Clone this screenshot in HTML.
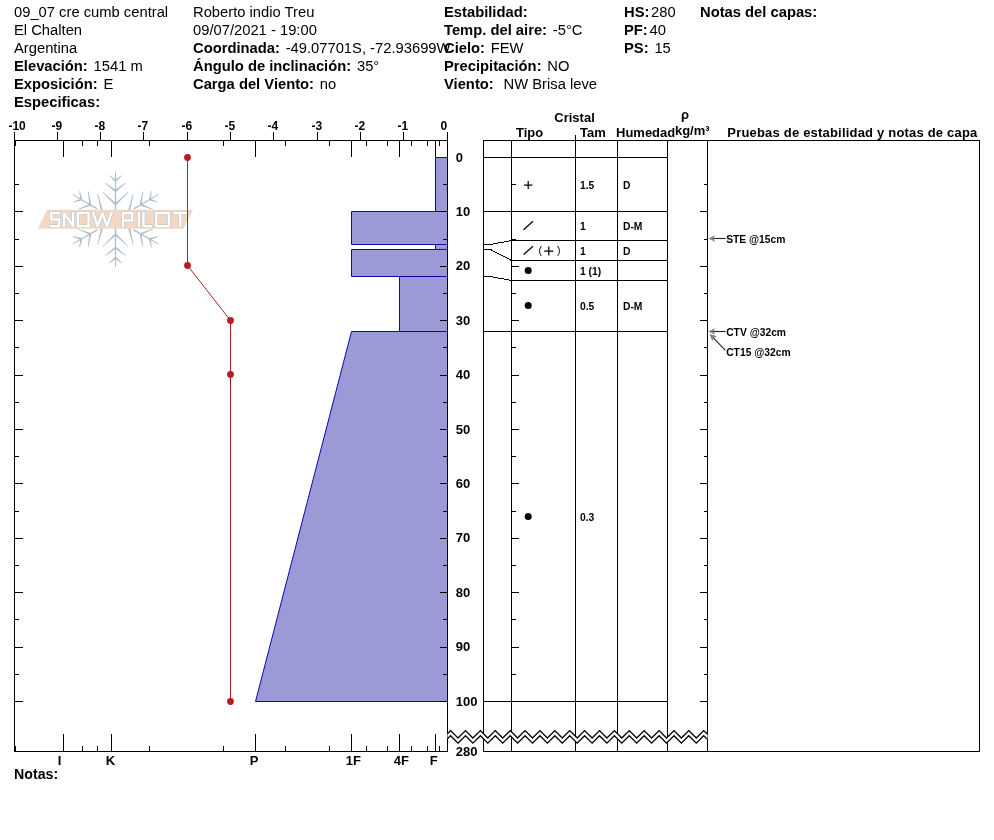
<!DOCTYPE html>
<html><head><meta charset="utf-8"><title>Snow profile</title>
<style>
html,body{margin:0;padding:0;background:#fff;}
body{width:994px;height:840px;position:relative;overflow:hidden;font-family:"Liberation Sans",sans-serif;color:#000;}
.h{position:absolute;white-space:nowrap;font-size:14.75px;line-height:18px;height:18px;}
.h b{font-weight:bold;margin-right:1.7px;}
svg{position:absolute;left:0;top:0;}
svg text{font-family:"Liberation Sans",sans-serif;fill:#000;}
.ax{font-weight:bold;font-size:13px;}
.tx{font-weight:bold;font-size:12px;}
.hd{font-weight:bold;font-size:13px;}
.sm{font-weight:bold;font-size:10.3px;}
</style></head><body><div id="wrap" style="position:absolute;left:0;top:0;width:994px;height:840px;will-change:transform;">
<div class="h" style="left:14px;top:3px;">09_07 cre cumb central</div>
<div class="h" style="left:14px;top:21px;">El Chalten</div>
<div class="h" style="left:14px;top:39px;">Argentina</div>
<div class="h" style="left:14px;top:57px;"><b>Elevación:</b> 1541 m</div>
<div class="h" style="left:14px;top:75px;"><b>Exposición:</b> E</div>
<div class="h" style="left:14px;top:93px;"><b>Especificas:</b></div>
<div class="h" style="left:193px;top:3px;">Roberto indio Treu</div>
<div class="h" style="left:193px;top:21px;">09/07/2021 - 19:00</div>
<div class="h" style="left:193px;top:39px;"><b>Coordinada:</b> -49.07701S, -72.93699W</div>
<div class="h" style="left:193px;top:57px;"><b>Ángulo de inclinación:</b> 35°</div>
<div class="h" style="left:193px;top:75px;"><b>Carga del Viento:</b> no</div>
<div class="h" style="left:444px;top:3px;"><b>Estabilidad:</b></div>
<div class="h" style="left:444px;top:21px;"><b>Temp. del aire:</b> -5°C</div>
<div class="h" style="left:444px;top:39px;"><b>Cielo:</b> FEW</div>
<div class="h" style="left:444px;top:57px;"><b>Precipitación:</b> NO</div>
<div class="h" style="left:444px;top:75px;"><b>Viento:</b>&nbsp; NW Brisa leve</div>
<div class="h" style="left:624px;top:3px;"><b>HS:</b>280</div>
<div class="h" style="left:624px;top:21px;"><b>PF:</b>40</div>
<div class="h" style="left:624px;top:39px;"><b>PS:</b> 15</div>
<div class="h" style="left:700px;top:3px;"><b>Notas del capas:</b></div>
<div class="h" style="left:14px;top:765px;font-size:14.2px;"><b>Notas:</b></div>
<svg width="994" height="840" viewBox="0 0 994 840">
<g id="logo">
<g fill="#adbec8" stroke="none">
<path transform="translate(115.5,219.3) rotate(0) scale(1.0)" d="M0.75,-8.40 L0.45,-47.80 L-0.45,-47.80 L-0.75,-8.40 Z M1.11,-38.75 L-6.00,-44.12 L-6.40,-43.68 L-0.21,-37.25 Z M0.21,-37.25 L6.40,-43.68 L6.00,-44.12 L-1.11,-38.75 Z M1.09,-28.70 L-9.91,-36.63 L-10.29,-36.17 L-0.16,-27.14 Z M0.16,-27.14 L10.29,-36.17 L9.91,-36.63 L-1.09,-28.70 Z M1.13,-15.31 L-12.59,-27.52 L-13.01,-27.08 L-0.26,-13.86 Z M0.26,-13.86 L13.01,-27.08 L12.59,-27.52 L-1.13,-15.31 Z"/>
<path transform="translate(115.5,219.3) rotate(60) scale(1.03)" d="M0.75,-20.40 L0.45,-47.80 L-0.45,-47.80 L-0.75,-20.40 Z M1.11,-38.75 L-6.00,-44.12 L-6.40,-43.68 L-0.21,-37.25 Z M0.21,-37.25 L6.40,-43.68 L6.00,-44.12 L-1.11,-38.75 Z M1.09,-28.70 L-9.91,-36.63 L-10.29,-36.17 L-0.16,-27.14 Z M0.16,-27.14 L10.29,-36.17 L9.91,-36.63 L-1.09,-28.70 Z M1.13,-15.31 L-12.59,-27.52 L-13.01,-27.08 L-0.26,-13.86 Z M0.26,-13.86 L13.01,-27.08 L12.59,-27.52 L-1.13,-15.31 Z"/>
<path transform="translate(115.5,219.3) rotate(120) scale(1.03)" d="M0.75,-20.40 L0.45,-47.80 L-0.45,-47.80 L-0.75,-20.40 Z M1.11,-38.75 L-6.00,-44.12 L-6.40,-43.68 L-0.21,-37.25 Z M0.21,-37.25 L6.40,-43.68 L6.00,-44.12 L-1.11,-38.75 Z M1.09,-28.70 L-9.91,-36.63 L-10.29,-36.17 L-0.16,-27.14 Z M0.16,-27.14 L10.29,-36.17 L9.91,-36.63 L-1.09,-28.70 Z M1.13,-15.31 L-12.59,-27.52 L-13.01,-27.08 L-0.26,-13.86 Z M0.26,-13.86 L13.01,-27.08 L12.59,-27.52 L-1.13,-15.31 Z"/>
<path transform="translate(115.5,219.3) rotate(180) scale(1.0)" d="M0.75,-8.40 L0.45,-47.80 L-0.45,-47.80 L-0.75,-8.40 Z M1.11,-38.75 L-6.00,-44.12 L-6.40,-43.68 L-0.21,-37.25 Z M0.21,-37.25 L6.40,-43.68 L6.00,-44.12 L-1.11,-38.75 Z M1.09,-28.70 L-9.91,-36.63 L-10.29,-36.17 L-0.16,-27.14 Z M0.16,-27.14 L10.29,-36.17 L9.91,-36.63 L-1.09,-28.70 Z M1.13,-15.31 L-12.59,-27.52 L-13.01,-27.08 L-0.26,-13.86 Z M0.26,-13.86 L13.01,-27.08 L12.59,-27.52 L-1.13,-15.31 Z"/>
<path transform="translate(115.5,219.3) rotate(240) scale(1.03)" d="M0.75,-20.40 L0.45,-47.80 L-0.45,-47.80 L-0.75,-20.40 Z M1.11,-38.75 L-6.00,-44.12 L-6.40,-43.68 L-0.21,-37.25 Z M0.21,-37.25 L6.40,-43.68 L6.00,-44.12 L-1.11,-38.75 Z M1.09,-28.70 L-9.91,-36.63 L-10.29,-36.17 L-0.16,-27.14 Z M0.16,-27.14 L10.29,-36.17 L9.91,-36.63 L-1.09,-28.70 Z M1.13,-15.31 L-12.59,-27.52 L-13.01,-27.08 L-0.26,-13.86 Z M0.26,-13.86 L13.01,-27.08 L12.59,-27.52 L-1.13,-15.31 Z"/>
<path transform="translate(115.5,219.3) rotate(300) scale(1.03)" d="M0.75,-20.40 L0.45,-47.80 L-0.45,-47.80 L-0.75,-20.40 Z M1.11,-38.75 L-6.00,-44.12 L-6.40,-43.68 L-0.21,-37.25 Z M0.21,-37.25 L6.40,-43.68 L6.00,-44.12 L-1.11,-38.75 Z M1.09,-28.70 L-9.91,-36.63 L-10.29,-36.17 L-0.16,-27.14 Z M0.16,-27.14 L10.29,-36.17 L9.91,-36.63 L-1.09,-28.70 Z M1.13,-15.31 L-12.59,-27.52 L-13.01,-27.08 L-0.26,-13.86 Z M0.26,-13.86 L13.01,-27.08 L12.59,-27.52 L-1.13,-15.31 Z"/>
</g>
<polygon points="47.1,209.8 193.1,209.8 183.4,228.8 37.7,228.8" fill="#f1d9c5"/>
<path d="M59.0,212.9 L51.3,212.9 L51.3,219.6 L59.0,219.6 L59.0,226.3 L51.3,226.3 M64.0,226.3 L64.0,212.9 L73.1,226.3 L73.1,212.9 M78.0,212.9 L88.5,212.9 L88.5,226.3 L78.0,226.3 Z M93.2,212.9 L97.6,226.3 L102.3,212.9 L107.0,226.3 L111.4,212.9 M123.1,226.3 L123.1,212.9 L132.2,212.9 L132.2,220.4 L123.1,220.4 M139,212.9 L139,226.3 M143.5,212.9 L143.5,226.3 L150.8,226.3 M156.2,212.9 L168.9,212.9 L168.9,226.3 L156.2,226.3 Z M174.3,212.9 L186.3,212.9 M180.3,212.9 L180.3,226.3" fill="none" stroke="#b3bec8" stroke-width="3.5" stroke-miterlimit="2" stroke-linejoin="miter" stroke-linecap="square"/>
<path d="M59.0,212.9 L51.3,212.9 L51.3,219.6 L59.0,219.6 L59.0,226.3 L51.3,226.3 M64.0,226.3 L64.0,212.9 L73.1,226.3 L73.1,212.9 M78.0,212.9 L88.5,212.9 L88.5,226.3 L78.0,226.3 Z M93.2,212.9 L97.6,226.3 L102.3,212.9 L107.0,226.3 L111.4,212.9 M123.1,226.3 L123.1,212.9 L132.2,212.9 L132.2,220.4 L123.1,220.4 M139,212.9 L139,226.3 M143.5,212.9 L143.5,226.3 L150.8,226.3 M156.2,212.9 L168.9,212.9 L168.9,226.3 L156.2,226.3 Z M174.3,212.9 L186.3,212.9 M180.3,212.9 L180.3,226.3" fill="none" stroke="#ffffff" stroke-width="2.5" stroke-miterlimit="2" stroke-linejoin="miter" stroke-linecap="square"/>
</g>
<path d="M447.5,157.5 L435.5,157.5 L435.5,211.5 L447.5,211.5 Z" fill="#9c9ad6" stroke="none"/>
<path d="M447.5,157.5 L435.5,157.5 L435.5,211.5 L447.5,211.5" fill="none" stroke="#0a0aa8" stroke-width="1"/>
<path d="M447.5,211.5 L351.5,211.5 L351.5,244.5 L447.5,244.5 Z" fill="#9c9ad6" stroke="none"/>
<path d="M447.5,211.5 L351.5,211.5 L351.5,244.5 L447.5,244.5" fill="none" stroke="#0a0aa8" stroke-width="1"/>
<path d="M447.5,244.5 L435.5,244.5 L435.5,249.5 L447.5,249.5 Z" fill="#9c9ad6" stroke="none"/>
<path d="M447.5,244.5 L435.5,244.5 L435.5,249.5 L447.5,249.5" fill="none" stroke="#0a0aa8" stroke-width="1"/>
<path d="M447.5,249.5 L351.5,249.5 L351.5,276.5 L447.5,276.5 Z" fill="#9c9ad6" stroke="none"/>
<path d="M447.5,249.5 L351.5,249.5 L351.5,276.5 L447.5,276.5" fill="none" stroke="#0a0aa8" stroke-width="1"/>
<path d="M447.5,276.5 L399.5,276.5 L399.5,331.5 L447.5,331.5 Z" fill="#9c9ad6" stroke="none"/>
<path d="M447.5,276.5 L399.5,276.5 L399.5,331.5 L447.5,331.5" fill="none" stroke="#0a0aa8" stroke-width="1"/>
<path d="M447.5,331.5 L351.5,331.5 L255.5,701.5 L447.5,701.5 Z" fill="#9c9ad6" stroke="none"/>
<path d="M447.5,331.5 L351.5,331.5 L255.5,701.5 L447.5,701.5" fill="none" stroke="#0a0aa8" stroke-width="1"/>
<g stroke="#000" stroke-width="1.3" fill="none" shape-rendering="crispEdges">
<path d="M14.5,140.5 L447.5,140.5 L447.5,751.5 L14.5,751.5 Z"/>
</g>
<g stroke="#000" stroke-width="1" fill="none" shape-rendering="crispEdges">
<path d="M14.5,132 L14.5,140.5"/>
<path d="M57.5,132 L57.5,140.5"/>
<path d="M100.5,132 L100.5,140.5"/>
<path d="M143.5,132 L143.5,140.5"/>
<path d="M187.5,132 L187.5,140.5"/>
<path d="M230.5,132 L230.5,140.5"/>
<path d="M273.5,132 L273.5,140.5"/>
<path d="M317.5,132 L317.5,140.5"/>
<path d="M360.5,132 L360.5,140.5"/>
<path d="M403.5,132 L403.5,140.5"/>
<path d="M447.5,132 L447.5,140.5"/>
<path d="M63.5,140.5 L63.5,157 M63.5,751.5 L63.5,734"/>
<path d="M111.5,140.5 L111.5,157 M111.5,751.5 L111.5,734"/>
<path d="M255.5,140.5 L255.5,157 M255.5,751.5 L255.5,734"/>
<path d="M351.5,140.5 L351.5,157 M351.5,751.5 L351.5,734"/>
<path d="M399.5,140.5 L399.5,157 M399.5,751.5 L399.5,734"/>
<path d="M435.5,140.5 L435.5,157 M435.5,751.5 L435.5,734"/>
<path d="M15.5,140.5 L15.5,146 M15.5,751.5 L15.5,746"/>
<path d="M82.5,140.5 L82.5,146 M82.5,751.5 L82.5,746"/>
<path d="M97.5,140.5 L97.5,146 M97.5,751.5 L97.5,746"/>
<path d="M149.5,140.5 L149.5,146 M149.5,751.5 L149.5,746"/>
<path d="M223.5,140.5 L223.5,146 M223.5,751.5 L223.5,746"/>
<path d="M285.5,140.5 L285.5,146 M285.5,751.5 L285.5,746"/>
<path d="M329.5,140.5 L329.5,146 M329.5,751.5 L329.5,746"/>
<path d="M366.5,140.5 L366.5,146 M366.5,751.5 L366.5,746"/>
<path d="M387.5,140.5 L387.5,146 M387.5,751.5 L387.5,746"/>
<path d="M411.5,140.5 L411.5,146 M411.5,751.5 L411.5,746"/>
<path d="M427.5,140.5 L427.5,146 M427.5,751.5 L427.5,746"/>
<path d="M439.5,140.5 L439.5,146 M439.5,751.5 L439.5,746"/>
<path d="M14.5,184.5 L18.5,184.5"/>
<path d="M447.5,184.5 L442.5,184.5"/>
<path d="M14.5,211.5 L22.5,211.5"/>
<path d="M447.5,211.5 L439.5,211.5"/>
<path d="M14.5,239.5 L18.5,239.5"/>
<path d="M447.5,239.5 L442.5,239.5"/>
<path d="M14.5,266.5 L22.5,266.5"/>
<path d="M447.5,266.5 L439.5,266.5"/>
<path d="M14.5,293.5 L18.5,293.5"/>
<path d="M447.5,293.5 L442.5,293.5"/>
<path d="M14.5,320.5 L22.5,320.5"/>
<path d="M447.5,320.5 L439.5,320.5"/>
<path d="M14.5,347.5 L18.5,347.5"/>
<path d="M447.5,347.5 L442.5,347.5"/>
<path d="M14.5,375.5 L22.5,375.5"/>
<path d="M447.5,375.5 L439.5,375.5"/>
<path d="M14.5,402.5 L18.5,402.5"/>
<path d="M447.5,402.5 L442.5,402.5"/>
<path d="M14.5,429.5 L22.5,429.5"/>
<path d="M447.5,429.5 L439.5,429.5"/>
<path d="M14.5,456.5 L18.5,456.5"/>
<path d="M447.5,456.5 L442.5,456.5"/>
<path d="M14.5,483.5 L22.5,483.5"/>
<path d="M447.5,483.5 L439.5,483.5"/>
<path d="M14.5,511.5 L18.5,511.5"/>
<path d="M447.5,511.5 L442.5,511.5"/>
<path d="M14.5,538.5 L22.5,538.5"/>
<path d="M447.5,538.5 L439.5,538.5"/>
<path d="M14.5,565.5 L18.5,565.5"/>
<path d="M447.5,565.5 L442.5,565.5"/>
<path d="M14.5,592.5 L22.5,592.5"/>
<path d="M447.5,592.5 L439.5,592.5"/>
<path d="M14.5,619.5 L18.5,619.5"/>
<path d="M447.5,619.5 L442.5,619.5"/>
<path d="M14.5,647.5 L22.5,647.5"/>
<path d="M447.5,647.5 L439.5,647.5"/>
<path d="M14.5,674.5 L18.5,674.5"/>
<path d="M447.5,674.5 L442.5,674.5"/>
<path d="M14.5,701.5 L22.5,701.5"/>
<path d="M447.5,701.5 L439.5,701.5"/>
</g>
<polyline points="187.5,157.5 187.5,265.5 230.5,320.5 230.5,374.5 230.5,701.5" fill="none" stroke="#b81c22" stroke-width="1"/>
<circle cx="187.5" cy="157.5" r="3.4" fill="#b81c22"/>
<circle cx="187.5" cy="265.5" r="3.4" fill="#b81c22"/>
<circle cx="230.5" cy="320.5" r="3.4" fill="#b81c22"/>
<circle cx="230.5" cy="374.5" r="3.4" fill="#b81c22"/>
<circle cx="230.5" cy="701.5" r="3.4" fill="#b81c22"/>
<g stroke="#000" stroke-width="1" fill="none" shape-rendering="crispEdges">
<path d="M483.5,140.5 L979.5,140.5 L979.5,751.5 L483.5,751.5 Z"/>
<path d="M511.5,140.5 L511.5,751.5"/>
<path d="M575.5,135 L575.5,751.5"/>
<path d="M617.5,140.5 L617.5,751.5"/>
<path d="M667.5,140.5 L667.5,751.5"/>
<path d="M707.5,140.5 L707.5,751.5"/>
<path d="M511.5,157.5 L667.5,157.5"/>
<path d="M511.5,211.5 L667.5,211.5"/>
<path d="M511.5,240.5 L667.5,240.5"/>
<path d="M511.5,260.5 L667.5,260.5"/>
<path d="M511.5,280.5 L667.5,280.5"/>
<path d="M511.5,331.5 L667.5,331.5"/>
<path d="M511.5,701.5 L667.5,701.5"/>
</g>
<g stroke="#000" stroke-width="1" fill="none" shape-rendering="crispEdges">
<path d="M483.5,157.5 L490.5,157.5 L511.5,157.5"/>
<path d="M483.5,211.5 L490.5,211.5 L511.5,211.5"/>
<path d="M483.5,244.5 L490.5,244.5 L511.5,240.5"/>
<path d="M483.5,249.5 L490.5,249.5 L511.5,260.5"/>
<path d="M483.5,276.5 L490.5,276.5 L511.5,280.5"/>
<path d="M483.5,331.5 L490.5,331.5 L511.5,331.5"/>
<path d="M483.5,701.5 L490.5,701.5 L511.5,701.5"/>
</g>
<g stroke="#000" stroke-width="1" fill="none" shape-rendering="crispEdges">
<path d="M511.5,184.5 L515.5,184.5"/>
<path d="M707.5,184.5 L703.5,184.5"/>
<path d="M511.5,211.5 L518.5,211.5"/>
<path d="M707.5,211.5 L699.5,211.5"/>
<path d="M511.5,239.5 L515.5,239.5"/>
<path d="M707.5,239.5 L703.5,239.5"/>
<path d="M511.5,266.5 L518.5,266.5"/>
<path d="M707.5,266.5 L699.5,266.5"/>
<path d="M511.5,293.5 L515.5,293.5"/>
<path d="M707.5,293.5 L703.5,293.5"/>
<path d="M511.5,320.5 L518.5,320.5"/>
<path d="M707.5,320.5 L699.5,320.5"/>
<path d="M511.5,347.5 L515.5,347.5"/>
<path d="M707.5,347.5 L703.5,347.5"/>
<path d="M511.5,375.5 L518.5,375.5"/>
<path d="M707.5,375.5 L699.5,375.5"/>
<path d="M511.5,402.5 L515.5,402.5"/>
<path d="M707.5,402.5 L703.5,402.5"/>
<path d="M511.5,429.5 L518.5,429.5"/>
<path d="M707.5,429.5 L699.5,429.5"/>
<path d="M511.5,456.5 L515.5,456.5"/>
<path d="M707.5,456.5 L703.5,456.5"/>
<path d="M511.5,483.5 L518.5,483.5"/>
<path d="M707.5,483.5 L699.5,483.5"/>
<path d="M511.5,511.5 L515.5,511.5"/>
<path d="M707.5,511.5 L703.5,511.5"/>
<path d="M511.5,538.5 L518.5,538.5"/>
<path d="M707.5,538.5 L699.5,538.5"/>
<path d="M511.5,565.5 L515.5,565.5"/>
<path d="M707.5,565.5 L703.5,565.5"/>
<path d="M511.5,592.5 L518.5,592.5"/>
<path d="M707.5,592.5 L699.5,592.5"/>
<path d="M511.5,619.5 L515.5,619.5"/>
<path d="M707.5,619.5 L703.5,619.5"/>
<path d="M511.5,647.5 L518.5,647.5"/>
<path d="M707.5,647.5 L699.5,647.5"/>
<path d="M511.5,674.5 L515.5,674.5"/>
<path d="M707.5,674.5 L703.5,674.5"/>
<path d="M511.5,701.5 L518.5,701.5"/>
<path d="M707.5,701.5 L699.5,701.5"/>
</g>
<polygon points="447.5,733.7 450.6,730.6 458.0,738.0 465.5,730.6 472.9,738.0 480.4,730.6 487.8,738.0 495.3,730.6 502.7,738.0 510.2,730.6 517.6,738.0 525.1,730.6 532.5,738.0 539.9,730.6 547.4,738.0 554.8,730.6 562.3,738.0 569.7,730.6 577.2,738.0 584.6,730.6 592.1,738.0 599.5,730.6 606.9,738.0 614.4,730.6 621.8,738.0 629.3,730.6 636.7,738.0 644.2,730.6 651.6,738.0 659.1,730.6 666.5,738.0 674.0,730.6 681.4,738.0 688.8,730.6 696.3,738.0 703.7,730.6 707.5,734.3 707.5,739.4 703.7,735.7 696.3,743.1 688.8,735.7 681.4,743.1 674.0,735.7 666.5,743.1 659.1,735.7 651.6,743.1 644.2,735.7 636.7,743.1 629.3,735.7 621.8,743.1 614.4,735.7 606.9,743.1 599.5,735.7 592.1,743.1 584.6,735.7 577.2,743.1 569.7,735.7 562.3,743.1 554.8,735.7 547.4,743.1 539.9,735.7 532.5,743.1 525.1,735.7 517.6,743.1 510.2,735.7 502.7,743.1 495.3,735.7 487.8,743.1 480.4,735.7 472.9,743.1 465.5,735.7 458.0,743.1 450.6,735.7 447.5,738.8" fill="#fff" stroke="none"/>
<polyline points="447.5,733.7 450.6,730.6 458.0,738.0 465.5,730.6 472.9,738.0 480.4,730.6 487.8,738.0 495.3,730.6 502.7,738.0 510.2,730.6 517.6,738.0 525.1,730.6 532.5,738.0 539.9,730.6 547.4,738.0 554.8,730.6 562.3,738.0 569.7,730.6 577.2,738.0 584.6,730.6 592.1,738.0 599.5,730.6 606.9,738.0 614.4,730.6 621.8,738.0 629.3,730.6 636.7,738.0 644.2,730.6 651.6,738.0 659.1,730.6 666.5,738.0 674.0,730.6 681.4,738.0 688.8,730.6 696.3,738.0 703.7,730.6 707.5,734.3" fill="none" stroke="#000" stroke-width="1.3"/>
<polyline points="447.5,738.8 450.6,735.7 458.0,743.1 465.5,735.7 472.9,743.1 480.4,735.7 487.8,743.1 495.3,735.7 502.7,743.1 510.2,735.7 517.6,743.1 525.1,735.7 532.5,743.1 539.9,735.7 547.4,743.1 554.8,735.7 562.3,743.1 569.7,735.7 577.2,743.1 584.6,735.7 592.1,743.1 599.5,735.7 606.9,743.1 614.4,735.7 621.8,743.1 629.3,735.7 636.7,743.1 644.2,735.7 651.6,743.1 659.1,735.7 666.5,743.1 674.0,735.7 681.4,743.1 688.8,735.7 696.3,743.1 703.7,735.7 707.5,739.4" fill="none" stroke="#000" stroke-width="1.3"/>
<text class="tx" x="8.4" y="130">-10</text>
<text class="tx" x="51.4" y="130">-9</text>
<text class="tx" x="94.4" y="130">-8</text>
<text class="tx" x="137.4" y="130">-7</text>
<text class="tx" x="181.4" y="130">-6</text>
<text class="tx" x="224.4" y="130">-5</text>
<text class="tx" x="267.4" y="130">-4</text>
<text class="tx" x="311.4" y="130">-3</text>
<text class="tx" x="354.4" y="130">-2</text>
<text class="tx" x="397.4" y="130">-1</text>
<text class="tx" x="440.6" y="130">0</text>
<text class="ax" x="455.7" y="161.5">0</text>
<text class="ax" x="455.7" y="215.9">10</text>
<text class="ax" x="455.7" y="270.3">20</text>
<text class="ax" x="455.7" y="324.7">30</text>
<text class="ax" x="455.7" y="379.1">40</text>
<text class="ax" x="455.7" y="433.5">50</text>
<text class="ax" x="455.7" y="487.9">60</text>
<text class="ax" x="455.7" y="542.3">70</text>
<text class="ax" x="455.7" y="596.7">80</text>
<text class="ax" x="455.7" y="651.1">90</text>
<text class="ax" x="455.7" y="705.5">100</text>
<text class="ax" x="455.7" y="755.6">280</text>
<text class="ax" x="57.7" y="764.6">I</text>
<text class="ax" x="105.7" y="764.6">K</text>
<text class="ax" x="249.7" y="764.6">P</text>
<text class="ax" x="345.7" y="764.6">1F</text>
<text class="ax" x="393.7" y="764.6">4F</text>
<text class="ax" x="429.7" y="764.6">F</text>
<text class="hd" x="554.3" y="122">Cristal</text>
<text class="hd" x="516" y="137">Tipo</text>
<text class="hd" x="580" y="137">Tam</text>
<text class="hd" x="616" y="137">Humedad</text>
<text class="hd" x="681" y="119.3">ρ</text>
<text class="hd" x="675" y="135" textLength="34.5" lengthAdjust="spacing">kg/m³</text>
<text class="hd" x="727.3" y="137" textLength="250" lengthAdjust="spacing">Pruebas de estabilidad y notas de capa</text>
<text class="sm" x="580" y="189">1.5</text>
<text class="sm" x="623" y="189">D</text>
<text class="sm" x="580" y="230">1</text>
<text class="sm" x="623" y="230">D-M</text>
<text class="sm" x="580" y="254.5">1</text>
<text class="sm" x="623" y="254.5">D</text>
<text class="sm" x="580" y="274.8">1 (1)</text>
<text class="sm" x="580" y="310">0.5</text>
<text class="sm" x="623" y="310">D-M</text>
<text class="sm" x="580" y="520.5">0.3</text>
<text class="sm" x="726.2" y="242.7">STE @15cm</text>
<text class="sm" x="726.2" y="335.5">CTV @32cm</text>
<text class="sm" x="726.2" y="356">CT15 @32cm</text>
<g stroke="#000" stroke-width="1.25" fill="none">
<path d="M524,185 L532.4,185 M528.2,180.9 L528.2,189.1"/>
<path d="M523.6,229.8 L533,221.2"/>
<path d="M523.6,254.5 L533,246.2"/>
<path d="M544.2,251 L553.4,251 M548.8,246.6 L548.8,255.4"/>
</g>
<text x="538.6" y="254" style="font-size:10.5px">(</text><text x="557" y="254" style="font-size:10.5px">)</text>
<circle cx="528.2" cy="270.4" r="3.5" fill="#000"/>
<circle cx="528.2" cy="305.4" r="3.5" fill="#000"/>
<circle cx="528.2" cy="516.4" r="3.5" fill="#000"/>
<g stroke="#222" stroke-width="1.1" fill="none">
<path d="M725.5,238.5 L712,238.5"/>
<path d="M725.5,331.5 L712,331.5"/>
<path d="M725.3,350.3 L712,336.4"/>
</g>
<g fill="#808080" stroke="none">
<path d="M708.3,238.5 L715.2,235.2 L713.4,238.5 L715.2,241.8 Z"/>
<path d="M708.3,331.5 L715.2,328.2 L713.4,331.5 L715.2,334.8 Z"/>
<path d="M709.6,334 L716.9,336.3 L713.6,338 L712.3,341.3 Z"/>
</g>
</svg>
</div></body></html>
